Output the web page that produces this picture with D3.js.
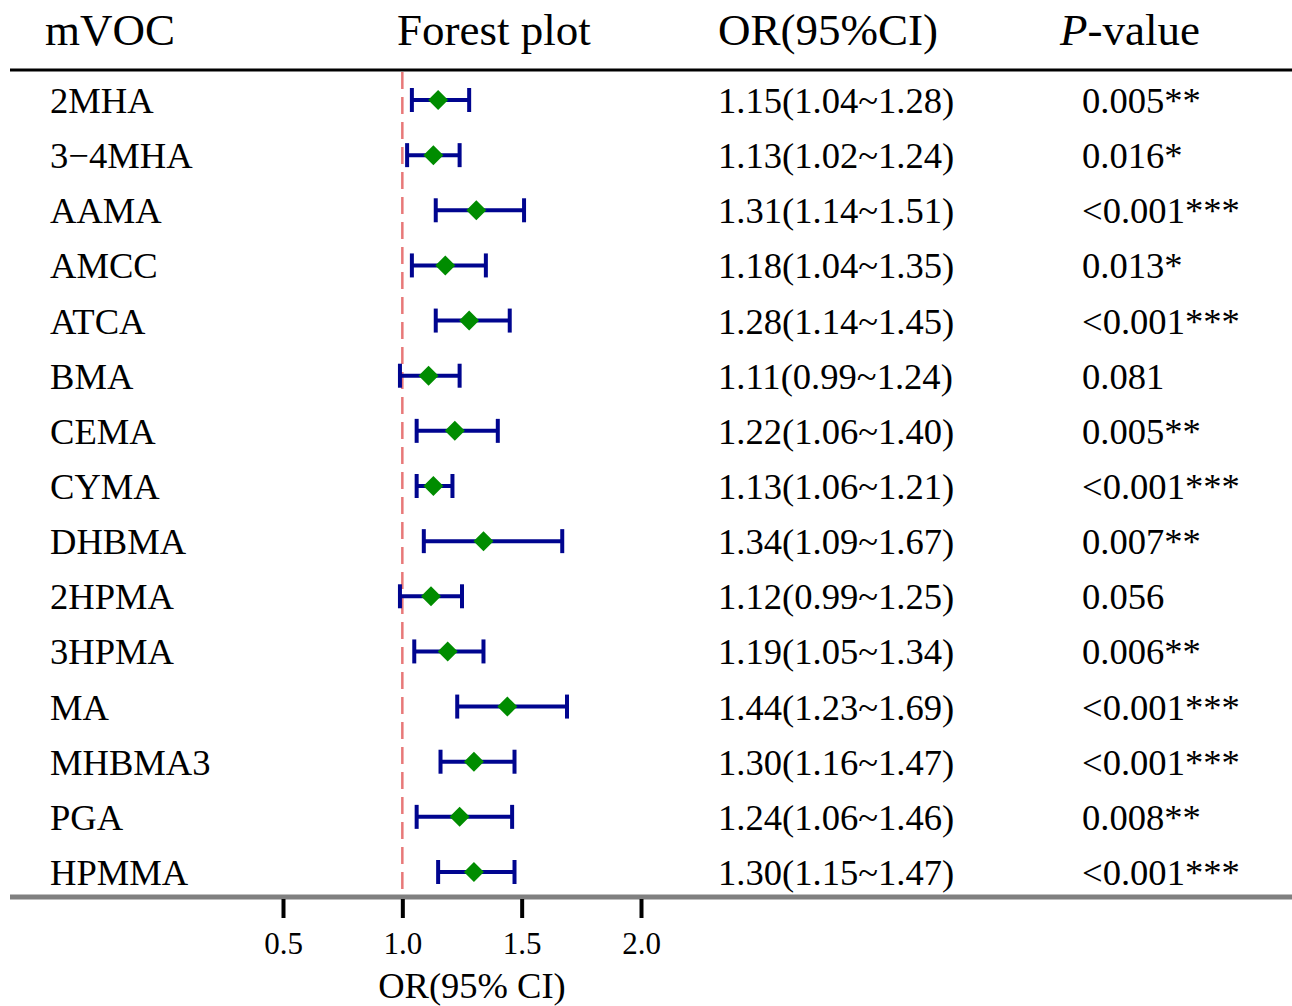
<!DOCTYPE html>
<html>
<head>
<meta charset="utf-8">
<script src="https://cdn.jsdelivr.net/npm/d3@7"></script>
<style>
html,body{margin:0;padding:0;background:#fff;}
svg{display:block;font-family:"Liberation Serif","Times New Roman",serif;}
</style>
</head>
<body>
<svg id="chart" width="1292" height="1006"></svg>
<script>
const names = ["2MHA","3\u22124MHA","AAMA","AMCC","ATCA","BMA","CEMA","CYMA","DHBMA","2HPMA","3HPMA","MA","MHBMA3","PGA","HPMMA"];
const orVals = [1.15,1.13,1.31,1.18,1.28,1.11,1.22,1.13,1.34,1.12,1.19,1.44,1.30,1.24,1.30];
const loVals = [1.04,1.02,1.14,1.04,1.14,0.99,1.06,1.06,1.09,0.99,1.05,1.23,1.16,1.06,1.15];
const hiVals = [1.28,1.24,1.51,1.35,1.45,1.24,1.40,1.21,1.67,1.25,1.34,1.69,1.47,1.46,1.47];
const pLabels = ["0.005**","0.016*","<0.001***","0.013*","<0.001***","0.081","0.005**","<0.001***","0.007**","0.056","0.006**","<0.001***","<0.001***","0.008**","<0.001***"];
const xTicks = [0.5,1.0,1.5,2.0];
const headers = ["mVOC","Forest plot","OR(95%CI)","P-value"];
const axisTitle = "OR(95% CI)";

const svg = d3.select("#chart");
const x = d3.scaleLinear().domain([0.5,2.0]).range([283,641]);
const y = d3.scalePoint().domain(d3.range(names.length)).range([100,872]);

const fmt = d3.format(".2f");

// headers
const hy = 45, hs = 45;
svg.append("text").attr("x",45).attr("y",hy).attr("font-size",hs).text(headers[0]);
svg.append("text").attr("x",397).attr("y",hy).attr("font-size",hs).text(headers[1]);
svg.append("text").attr("x",718).attr("y",hy).attr("font-size",hs).text(headers[2]);
const pv = svg.append("text").attr("x",1060).attr("y",hy).attr("font-size",hs);
pv.append("tspan").attr("font-style","italic").text(headers[3].slice(0,1));
pv.append("tspan").text(headers[3].slice(1));

// top rule
svg.append("line").attr("x1",10).attr("x2",1292).attr("y1",70).attr("y2",70)
  .attr("stroke","#000").attr("stroke-width",3);

// reference line
svg.append("line").attr("x1",x(1)).attr("x2",x(1)).attr("y1",72).attr("y2",896)
  .attr("stroke","#e87878").attr("stroke-width",2.5).attr("stroke-dasharray","17,8");

// rows
const rows = svg.append("g").selectAll("g").data(names).join("g")
  .attr("transform",(d,i)=>`translate(0,${y(i)})`);

const rs = 36.6;
rows.append("text").attr("x",50).attr("y",13).attr("font-size",rs).text(d=>d);
rows.append("text").attr("x",718).attr("y",13).attr("font-size",rs)
  .text((d,i)=>`${fmt(orVals[i])}(${fmt(loVals[i])}~${fmt(hiVals[i])})`);
rows.append("text").attr("x",1082).attr("y",13).attr("font-size",rs).text((d,i)=>pLabels[i]);

const ciCol = "#00058f";
rows.append("line").attr("x1",(d,i)=>x(loVals[i])).attr("x2",(d,i)=>x(hiVals[i]))
  .attr("stroke",ciCol).attr("stroke-width",4);
rows.append("line").attr("x1",(d,i)=>x(loVals[i])).attr("x2",(d,i)=>x(loVals[i]))
  .attr("y1",-12).attr("y2",12).attr("stroke",ciCol).attr("stroke-width",4);
rows.append("line").attr("x1",(d,i)=>x(hiVals[i])).attr("x2",(d,i)=>x(hiVals[i]))
  .attr("y1",-12).attr("y2",12).attr("stroke",ciCol).attr("stroke-width",4);
rows.append("path")
  .attr("d",(d,i)=>{const cx=x(orVals[i]);const r=10;return `M${cx},${-r}L${cx+r},0L${cx},${r}L${cx-r},0Z`;})
  .attr("fill","#008c00");

// bottom rule
svg.append("line").attr("x1",10).attr("x2",1292).attr("y1",897).attr("y2",897)
  .attr("stroke","#808080").attr("stroke-width",5);

// axis
const axisG = svg.append("g").attr("transform","translate(0,899)");
const axis = d3.axisBottom(x).tickValues(xTicks).tickFormat(d3.format(".1f")).tickSize(19).tickPadding(14);
axisG.call(axis);
axisG.select(".domain").remove();
axisG.selectAll(".tick line").attr("stroke","#000").attr("stroke-width",4);
axisG.selectAll(".tick text").attr("font-size",31).attr("font-family","Liberation Serif, serif").attr("fill","#000");

svg.append("text").attr("x",x(1.25)+10).attr("y",998).attr("text-anchor","middle")
  .attr("font-size",36.5).text(axisTitle);
</script>
</body>
</html>
